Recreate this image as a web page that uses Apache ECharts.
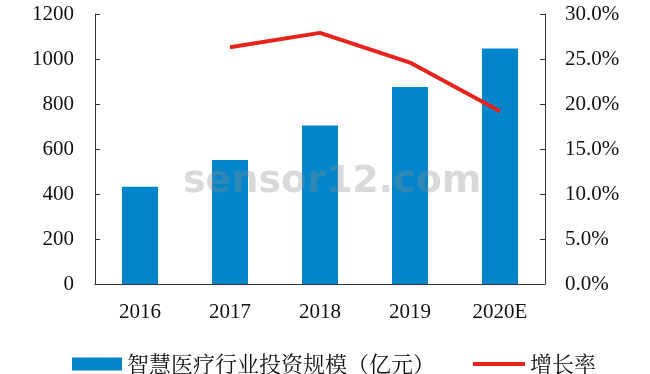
<!DOCTYPE html>
<html><head><meta charset="utf-8">
<script src="https://cdn.jsdelivr.net/npm/echarts@6/dist/echarts.min.js"></script>
<style>html,body{margin:0;padding:0;background:#fff}#c{width:650px;height:374px}</style>
</head><body><div id="c"></div>
<script>
const categories = ['2016','2017','2018','2019','2020E'];
const investment = [432, 551, 704, 876, 1047];
const growth = [null, 26.3, 27.9, 24.6, 19.2];
const barName = '智慧医疗行业投资规模（亿元）';
const lineName = '增长率';

const serif = '"Liberation Serif", "DejaVu Serif", serif';
const cjk = '"Noto Serif CJK SC","Noto Sans CJK SC", serif';
const chart = echarts.init(document.getElementById('c'));
chart.setOption({
  animation: false,
  grid: {left: 95, right: 105, top: 14, bottom: 90},
  xAxis: {
    type: 'category', data: categories,
    axisLine: {lineStyle: {color: '#333', width: 1}},
    axisTick: {inside: true, length: 5, lineStyle: {color: '#333'}},
    axisLabel: {color: '#111', fontFamily: serif, fontSize: 21, margin: 18}
  },
  yAxis: [{
    type: 'value', min: 0, max: 1200, interval: 200,
    axisLine: {show: true, lineStyle: {color: '#333'}},
    axisTick: {show: true, inside: true, length: 5, lineStyle: {color: '#333'}},
    splitLine: {show: false},
    axisLabel: {color: '#111', fontFamily: serif, fontSize: 21, margin: 21,
      formatter: v => String(v)}
  }, {
    type: 'value', min: 0, max: 30, interval: 5,
    axisLine: {show: true, lineStyle: {color: '#333'}},
    axisTick: {show: true, inside: true, length: 5, lineStyle: {color: '#333'}},
    splitLine: {show: false},
    axisLabel: {color: '#111', fontFamily: serif, fontSize: 21, margin: 20,
      formatter: v => v.toFixed(1) + '%'}
  }],
  legend: [{
    data: [barName], left: 67, top: 348, itemWidth: 50, itemHeight: 13, itemGap: 8,
    icon: 'rect',
    textStyle: {fontFamily: cjk, fontSize: 22, color: '#111'}
  }, {
    data: [lineName], left: 468, top: 348, itemWidth: 52, itemHeight: 4, itemGap: 6,
    icon: 'rect',
    textStyle: {fontFamily: cjk, fontSize: 22, color: '#111'}
  }],
  series: [{
    name: barName, type: 'bar', data: investment, barWidth: 36,
    itemStyle: {color: '#0285cb'}
  }, {
    name: lineName, type: 'line', yAxisIndex: 1, data: growth,
    showSymbol: false, symbol: 'none',
    lineStyle: {color: '#e8231b', width: 4},
    itemStyle: {color: '#e8231b'}
  }],
  graphic: [{
    type: 'text', left: 183, top: 163, z: 100,
    style: {text: 'sensor12.com', fill: 'rgba(140,140,140,0.33)',
      font: 'bold 38px "DejaVu Sans", sans-serif'}
  }]
});
</script></body></html>
